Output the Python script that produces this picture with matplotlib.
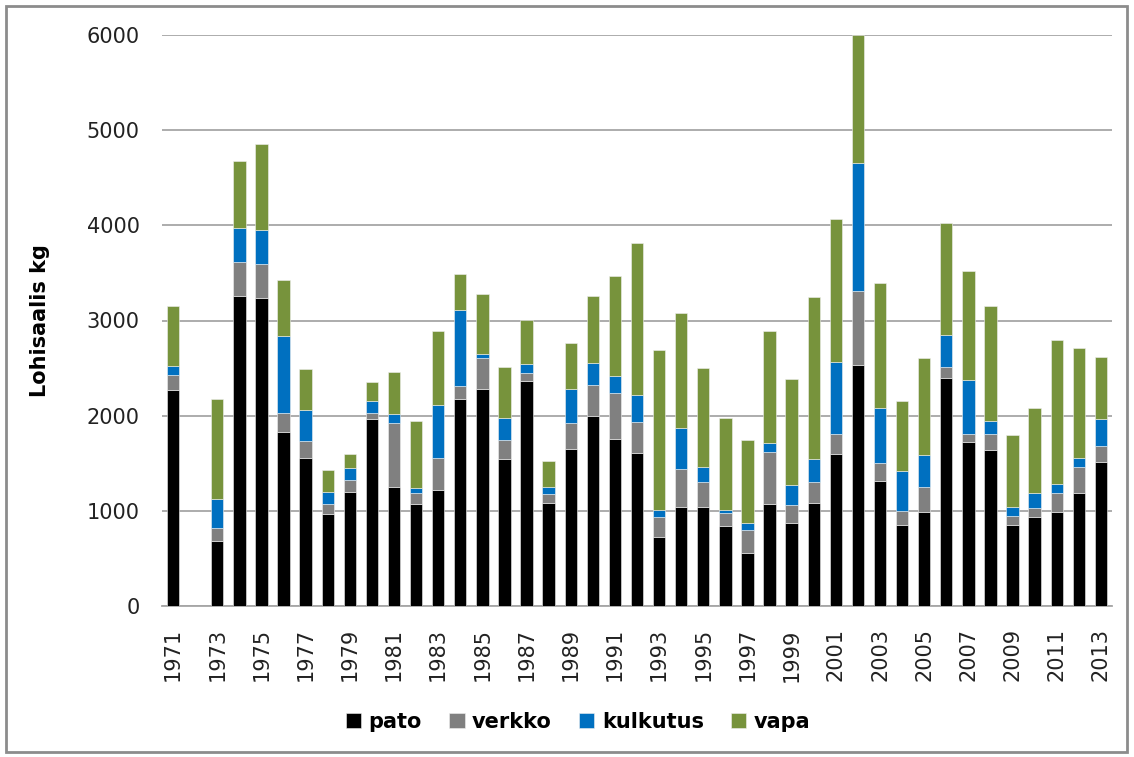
import matplotlib
matplotlib.use("Agg")
import matplotlib.pyplot as plt
import numpy as np
from matplotlib.patches import Rectangle

years = list(range(1971, 2014))
pato = [2274, 0, 680, 3255, 3241, 1826, 1556, 964, 1195, 1962,
        1247, 1072, 1223, 2179, 2285, 1542, 2365, 1083, 1654, 2001,
        1759, 1612, 722, 1044, 1044, 844, 561, 1069, 867, 1083,
        1599, 2529, 1313, 846, 991, 2392, 1720, 1639, 854, 934,
        991, 1192, 1518]
verkko = [158, 0, 136, 361, 350, 199, 175, 108, 129, 63,
          673, 119, 333, 130, 322, 203, 81, 94, 266, 322,
          483, 322, 214, 393, 259, 137, 241, 553, 191, 218,
          213, 782, 189, 157, 258, 117, 92, 173, 92, 93,
          201, 270, 161]
kulkutus = [94, 0, 309, 357, 365, 813, 326, 123, 127, 126,
            95, 46, 553, 799, 42, 231, 94, 70, 365, 231,
            176, 280, 70, 431, 158, 25, 67, 95, 214, 241,
            757, 1349, 580, 415, 334, 342, 564, 137, 97, 165,
            93, 97, 282]
vapa = [631, 0, 1051, 708, 900, 589, 431, 238, 147, 200,
        445, 708, 782, 385, 631, 533, 463, 281, 483, 701,
        1051, 1605, 1681, 1212, 1037, 967, 876, 1174, 1117, 1700,
        1495, 1340, 1309, 741, 1027, 1172, 1148, 1200, 757, 890,
        1514, 1155, 657]

series_names = ["pato", "verkko", "kulkutus", "vapa"]
colors = ["#000000", "#808080", "#0070C0", "#77933C"]
yticks = [0, 1000, 2000, 3000, 4000, 5000, 6000]

fig = plt.figure(figsize=(11.34, 7.57), dpi=100)
ax = fig.add_axes([162/1134, 151/757, (1112-162)/1134, (606-35)/757])

x = np.arange(len(years))
bottom = np.zeros(len(years))
for name, vals, c in zip(series_names, [pato, verkko, kulkutus, vapa], colors):
    vals = np.array(vals, dtype=float)
    ax.bar(x, vals, width=0.56, bottom=bottom, color=c, label=name,
           edgecolor="#f0f0f0", linewidth=0.4, zorder=3)
    bottom += vals

ax.set_xlim(-0.5, len(years) - 0.5)
ax.set_ylim(0, 6000)
ax.set_yticks(yticks)
ax.set_yticklabels([str(t) for t in yticks], fontsize=15, color="#222222")
ax.yaxis.grid(True, color="#A6A6A6", linewidth=1.3, zorder=0)
ax.set_axisbelow(True)
ax.tick_params(axis="y", length=0, pad=16)

ax.set_xticks(x[::2])
ax.set_xticklabels([str(y) for y in years[::2]], rotation=90, fontsize=15,
                   color="#222222")
ax.tick_params(axis="x", length=0, pad=16)

for s in ["top", "right", "left"]:
    ax.spines[s].set_visible(False)
ax.spines["bottom"].set_color("#A6A6A6")
ax.spines["bottom"].set_linewidth(1.3)

ax.set_ylabel("Lohisaalis kg", fontsize=15, fontweight="bold")
ax.yaxis.set_label_coords(-0.118, 0.5)

leg = fig.legend(loc="center", bbox_to_anchor=(578/1134, 1 - 722/757), ncol=4,
                 frameon=False, prop={"size": 15, "weight": "bold"},
                 handlelength=0.75, handleheight=0.75, handletextpad=0.35,
                 columnspacing=1.3)

fig.patches.append(Rectangle((6/1134, 5/757), 1121/1134, 746/757,
                             transform=fig.transFigure, fill=False,
                             edgecolor="#8C8C8C", linewidth=2))

fig.savefig("out.png", dpi=100)
